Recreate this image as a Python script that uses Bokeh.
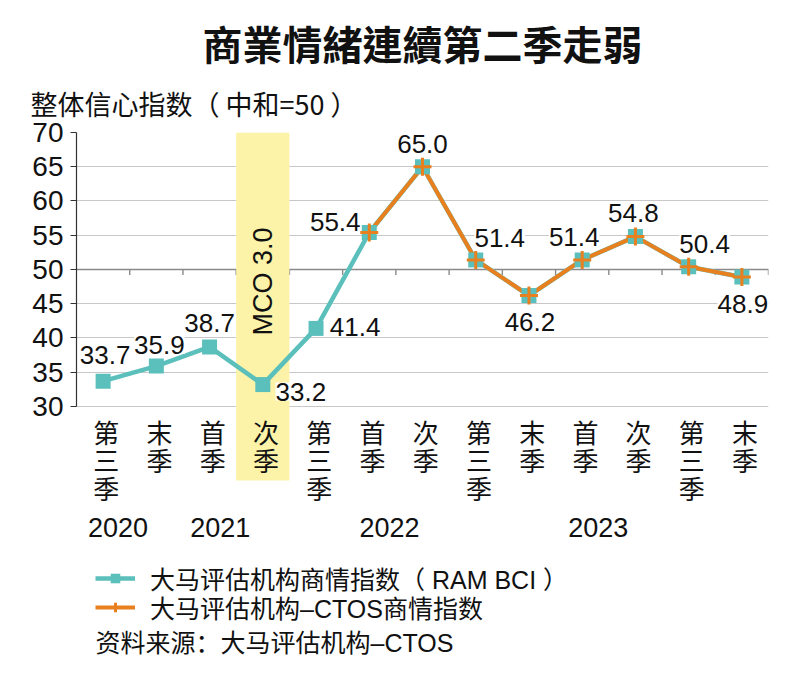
import math
from bokeh.plotting import figure
from bokeh.models import (Range1d, FixedTicker, Span, LabelSet, Label, Title,
                          ColumnDataSource, Legend, LegendItem)
from bokeh.core.properties import value
from bokeh.embed import file_html
from bokeh.resources import INLINE

# ---------------- data ----------------
quarters = ["第三季", "末季", "首季", "次季", "第三季", "首季", "次季",
            "第三季", "末季", "首季", "次季", "第三季", "末季"]
ram_bci = [33.7, 35.9, 38.7, 33.2, 41.4, 55.4, 65.0, 51.4, 46.2, 51.4, 54.8, 50.4, 48.9]
ctos_bci = [55.4, 65.0, 51.4, 46.2, 51.4, 54.8, 50.4, 48.9]
ctos_start = 5
years = ["2020", "2021", "2022", "2023"]
year_pos = [0.28, 2.2, 5.38, 9.3]
y_ticks = [30, 35, 40, 45, 50, 55, 60, 65, 70]
mco_quarter = 3
neutral = 50

title_text = "商業情緒連續第二季走弱"
ylabel_text = "整体信心指数（ 中和=50 ）"
legend_ram = "大马评估机构商情指数（ RAM BCI ）"
legend_ctos = "大马评估机构–CTOS商情指数"
source_text = "资料来源：大马评估机构–CTOS"

# label placement (pixels, layout only)
lab_dx = [2, 3, 0, 38, 39, -34, 0, 24, 1, -8, -2, 16, 1]
lab_dy = [26, 21, 24, -7, 1, 11, 23, 22, -26, 23, 24, 23, -27]

TEAL = "#5BBFBB"
ORANGE = "#E8801F"
YELLOW = "#FCF3A8"
LATIN = "Liberation Sans"
CJK = "Noto Sans CJK SC"
MIX = "Liberation Sans, Noto Sans CJK SC"

idx = list(range(len(ram_bci)))
ctos_idx = [ctos_start + i for i in range(len(ctos_bci))]

W, H = 789, 690
TOP = 132  # frame top (value 70)
p = figure(width=W, height=H, output_backend="svg", toolbar_location=None,
           x_range=Range1d(-0.5, len(ram_bci) - 0.5), y_range=Range1d(-11.46, 70),
           x_axis_location=None, min_border_left=76, min_border_right=21,
           min_border_top=TOP, min_border_bottom=0)
p.outline_line_color = None
p.background_fill_color = "white"
p.xgrid.visible = False

ax = p.yaxis[0]
ax.ticker = FixedTicker(ticks=y_ticks)
ax.bounds = (min(y_ticks), max(y_ticks))
ax.axis_line_color = "#333333"
ax.axis_line_width = 1.2
ax.major_tick_out = 6
ax.major_tick_in = 0
ax.major_tick_line_color = "#333333"
ax.minor_tick_line_color = None
ax.major_label_text_font = LATIN
ax.major_label_text_font_size = "28px"
ax.major_label_text_color = "#111111"
ax.major_label_standoff = 7
p.ygrid.grid_line_color = "#c8c8c8"
p.ygrid.grid_line_width = 1.2

# neutral line (axis crossing at 50)
p.add_layout(Span(location=neutral, dimension="width", line_color="#8a8a8a",
                  line_width=1.6, level="underlay"))
bounds = [i + 0.5 for i in idx]
p.segment(x0=bounds, y0=[neutral] * len(bounds), x1=bounds, y1=[neutral - 0.8] * len(bounds),
          line_color="#8a8a8a", line_width=1.4)

# MCO band
p.quad(left=[mco_quarter - 0.5], right=[mco_quarter + 0.5], top=[max(y_ticks)],
       bottom=[min(y_ticks) - 10.8], fill_color=YELLOW, line_color=None)
p.text(x=[mco_quarter], y=[neutral], text=["MCO 3.0"], angle=math.pi / 2,
       y_offset=12, text_align="center", text_baseline="middle",
       text_font=value(LATIN), text_font_size="27px", text_color="#111111")

# series
teal_line = p.line(idx, ram_bci, line_color=TEAL, line_width=4.5)
orange_line = p.line(ctos_idx, ctos_bci, line_color=ORANGE, line_width=4)
teal_sq = p.scatter(idx, ram_bci, marker="square", size=15, fill_color=TEAL, line_color=None)
orange_plus = p.scatter(ctos_idx, ctos_bci, marker="cross", size=18, line_color=ORANGE, line_width=3)

# data labels
src = ColumnDataSource(dict(x=idx, y=ram_bci, t=[f"{v:.1f}" for v in ram_bci],
                            dx=lab_dx, dy=lab_dy))
p.add_layout(LabelSet(x="x", y="y", text="t", source=src, x_offset="dx", y_offset="dy",
                      text_align="center", text_baseline="middle",
                      text_font=value(LATIN), text_font_size="26px", text_color="#111111",
                      background_fill_color="white"))

# category labels, one character per row
cx, cy, ct, co = [], [], [], []
for i, q in enumerate(quarters):
    for r, ch in enumerate(q):
        cx.append(i + 0.06)
        cy.append(min(y_ticks))
        ct.append(ch)
        co.append(25 + 28 * r)
p.text(x=cx, y=cy, text=ct, y_offset=co, text_align="center", text_baseline="middle",
       text_font=value(CJK), text_font_size="26px", text_color="#111111")
p.text(x=year_pos, y=[min(y_ticks)] * len(years), text=years, y_offset=121,
       text_align="center", text_baseline="middle",
       text_font=value(LATIN), text_font_size="27px", text_color="#111111")

# titles (above the frame)
p.add_layout(Title(text=ylabel_text, align="left", offset=-46, text_font=CJK,
                   text_font_size="27px", text_font_style="normal", text_color="#111111",
                   standoff=20), "above")
p.add_layout(Title(text=title_text, align="center", offset=-3, text_font="Noto Sans CJK TC",
                   text_font_size="40px", text_font_style="bold", text_color="#111111",
                   standoff=0, text_line_height=0.8), "above")

p.add_layout(Label(x=19, y=48, x_units="screen", y_units="screen", text=source_text,
                   text_align="left", text_baseline="middle", text_font=MIX,
                   text_font_size="25px", text_color="#111111"))

common = dict(orientation="vertical", border_line_color=None, background_fill_alpha=0,
              label_text_font=MIX, label_text_font_size="25px", label_text_color="#111111",
              glyph_width=40, glyph_height=24, label_standoff=15, spacing=0,
              padding=0, margin=0)
p.add_layout(Legend(items=[LegendItem(label=legend_ram, renderers=[teal_line, teal_sq])],
                    location=(19, 94), **common))
p.add_layout(Legend(items=[LegendItem(label=legend_ctos, renderers=[orange_line, orange_plus])],
                    location=(19, 65), **common))

open("out.html", "w").write(file_html(p, INLINE))
